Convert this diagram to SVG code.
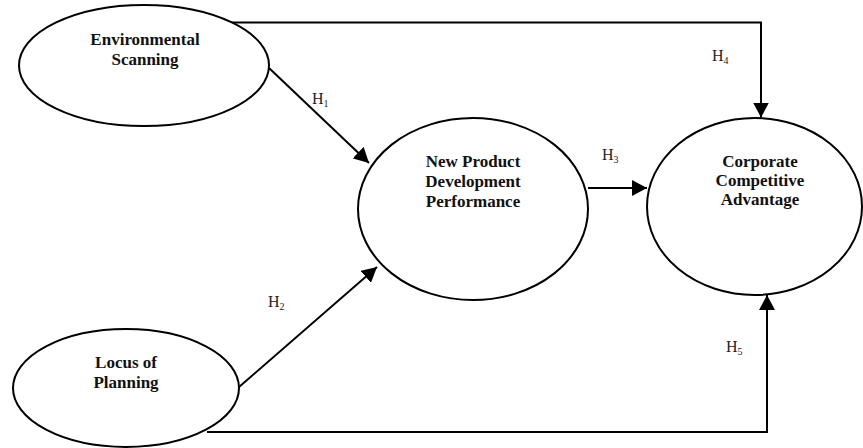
<svg xmlns="http://www.w3.org/2000/svg" width="863" height="448" viewBox="0 0 863 448">
<style>
.node ellipse{fill:#fff;stroke:#000;stroke-width:2}
.nt{font-family:"Liberation Serif","Times New Roman",serif;font-weight:bold;font-size:17px;text-anchor:middle;fill:#111}
.lbl{font-family:"Liberation Serif","Times New Roman",serif;font-size:16px;fill:#222}
.sub{font-size:10px}
.conn line,.conn polyline{fill:none;stroke:#000;stroke-width:2}
</style>
<defs>
<marker id="ah" markerUnits="userSpaceOnUse" markerWidth="15" markerHeight="16" refX="15" refY="8" orient="auto">
<path d="M0,0 L15,8 L0,16 z" fill="#000"/>
</marker>
</defs>
<g class="conn" id="connectors">
<line x1="269" y1="68" x2="369" y2="163" marker-end="url(#ah)"/>
<line x1="239" y1="387" x2="377" y2="267" marker-end="url(#ah)"/>
<line x1="588" y1="188" x2="647" y2="188" marker-end="url(#ah)"/>
<polyline points="230,22.5 761,22.5 761,117.5" marker-end="url(#ah)"/>
<polyline points="207,432 767,432 767,295" marker-end="url(#ah)"/>
</g>
<g id="env" class="node">
<ellipse cx="144" cy="65.5" rx="125" ry="60.5"/>
<text class="nt" x="145" y="45">Environmental</text>
<text class="nt" x="145" y="65">Scanning</text>
</g>
<g id="locus" class="node">
<ellipse cx="126" cy="388" rx="113" ry="59"/>
<text class="nt" x="126" y="368">Locus of</text>
<text class="nt" x="126" y="388">Planning</text>
</g>
<g id="npd" class="node">
<ellipse cx="473" cy="209" rx="115" ry="91"/>
<text class="nt" x="473" y="167">New Product</text>
<text class="nt" x="473" y="187">Development</text>
<text class="nt" x="473" y="207">Performance</text>
</g>
<g id="cca" class="node">
<ellipse cx="754.5" cy="206.5" rx="107.5" ry="88.5"/>
<text class="nt" x="760" y="167">Corporate</text>
<text class="nt" x="760" y="186">Competitive</text>
<text class="nt" x="760" y="205">Advantage</text>
</g>
<g id="labels">
<text class="lbl" x="312" y="104">H<tspan class="sub" dy="3">1</tspan></text>
<text class="lbl" x="268" y="307">H<tspan class="sub" dy="3">2</tspan></text>
<text class="lbl" x="602" y="160">H<tspan class="sub" dy="3">3</tspan></text>
<text class="lbl" x="712" y="61">H<tspan class="sub" dy="3">4</tspan></text>
<text class="lbl" x="726" y="352">H<tspan class="sub" dy="3">5</tspan></text>
</g>
</svg>
